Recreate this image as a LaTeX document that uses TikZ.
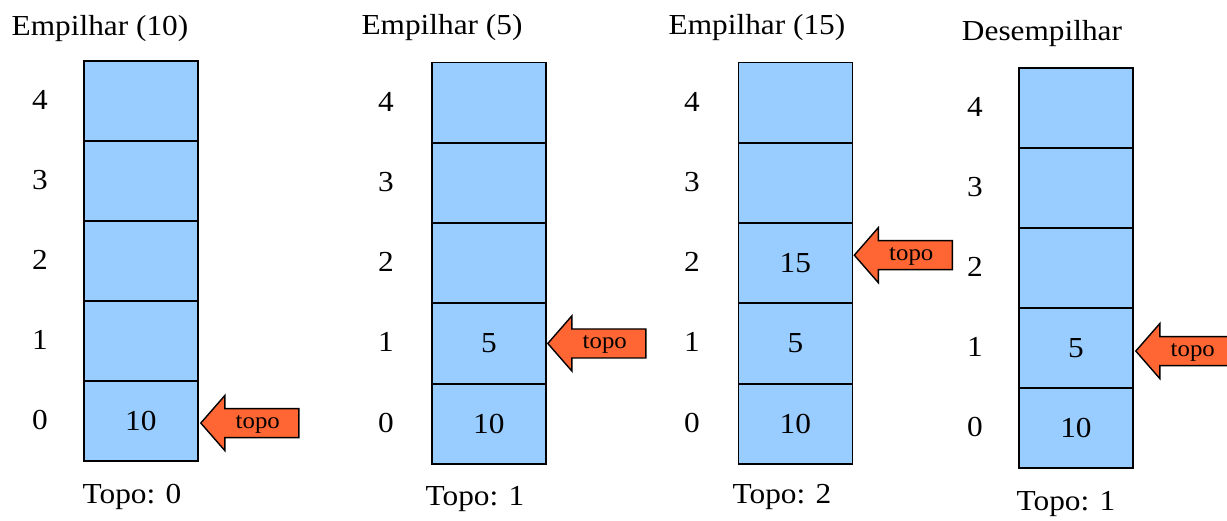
\documentclass[tikz,border=0pt]{standalone}
\usepackage{fontspec}
\setmainfont[FakeStretch=1.08]{Liberation Serif}
\usetikzlibrary{calc}
\definecolor{cellblue}{HTML}{99CCFF}
\definecolor{arroworange}{HTML}{FF6633}
\begin{document}
\begin{tikzpicture}[x=1pt,y=-1pt,
  cell/.style={draw=black, fill=cellblue, line width=1.8pt, minimum width=114pt, minimum height=80.3pt, inner sep=0pt, anchor=north west, font=\fontsize{29}{29}\selectfont},
  idx/.style={inner sep=0pt, font=\fontsize{29}{29}\selectfont},
  title/.style={inner sep=0pt, anchor=base, font=\fontsize{29}{29}\selectfont},
  topolbl/.style={inner sep=0pt, anchor=base, font=\fontsize{29}{29}\selectfont},
  arrowshape/.style={draw=black, fill=arroworange, line width=1.4pt, line join=miter},
  arrowtxt/.style={inner sep=0pt, font=\fontsize{23}{23}\selectfont}]
\useasboundingbox (0,0) rectangle (1227,520);
\clip (0,0) rectangle (1227,520);

% Stack 1
\foreach \i/\v in {0/10,1/,2/,3/,4/}{
  \node[cell] (s1c\i) at (83, {60+(4-\i)*80}) {\v};
  \node[idx] (s1i\i) at (40, {60+(4-\i)*80+40}) {\i};
}
\node[title] (s1t) at (100,35) {Empilhar (10)};
\node[topolbl] (s1b) at (132,503) {Topo: 0};

% Stack 2
\foreach \i/\v in {0/10,1/5,2/,3/,4/}{
  \node[cell] (s2c\i) at (431, {61.5+(4-\i)*80.3}) {\v};
  \node[idx] (s2i\i) at (386, {61.5+(4-\i)*80.3+40}) {\i};
}
\node[title] (s2t) at (442,34) {Empilhar (5)};
\node[topolbl] (s2b) at (475,505) {Topo: 1};

% Stack 3
\foreach \i/\v in {0/10,1/5,2/15,3/,4/}{
  \node[cell] (s3c\i) at (737.5, {61.5+(4-\i)*80.3}) {\v};
  \node[idx] (s3i\i) at (692, {61.5+(4-\i)*80.3+40}) {\i};
}
\node[title] (s3t) at (757,34) {Empilhar (15)};
\node[topolbl] (s3b) at (782,503) {Topo: 2};

% Stack 4
\foreach \i/\v in {0/10,1/5,2/,3/,4/}{
  \node[cell] (s4c\i) at (1018, {67+(4-\i)*80}) {\v};
  \node[idx] (s4i\i) at (975, {67+(4-\i)*80+40}) {\i};
}
\node[title] (s4t) at (1042,40) {Desempilhar};
\node[topolbl] (s4b) at (1066,510) {Topo: 1};

% Arrows
\coordinate (a1) at ($(s1c0.east)+(2,2)$);
\coordinate (a2) at ($(s2c1.east)+(1,0)$);
\coordinate (a3) at ($(s3c2.east)+(1,-8)$);
\coordinate (a4) at ($(s4c1.east)+(2,3)$);
\foreach \a in {a1,a2,a3,a4}{
  \draw[arrowshape] (\a) -- ++(24,-27.5) -- ++(0,13) -- ++(74,0) -- ++(0,29) -- ++(-74,0) -- ++(0,13) -- cycle;
  \node[arrowtxt] (\a txt) at ($(\a)+(57,1)$) {topo};
}
\end{tikzpicture}
\end{document}
